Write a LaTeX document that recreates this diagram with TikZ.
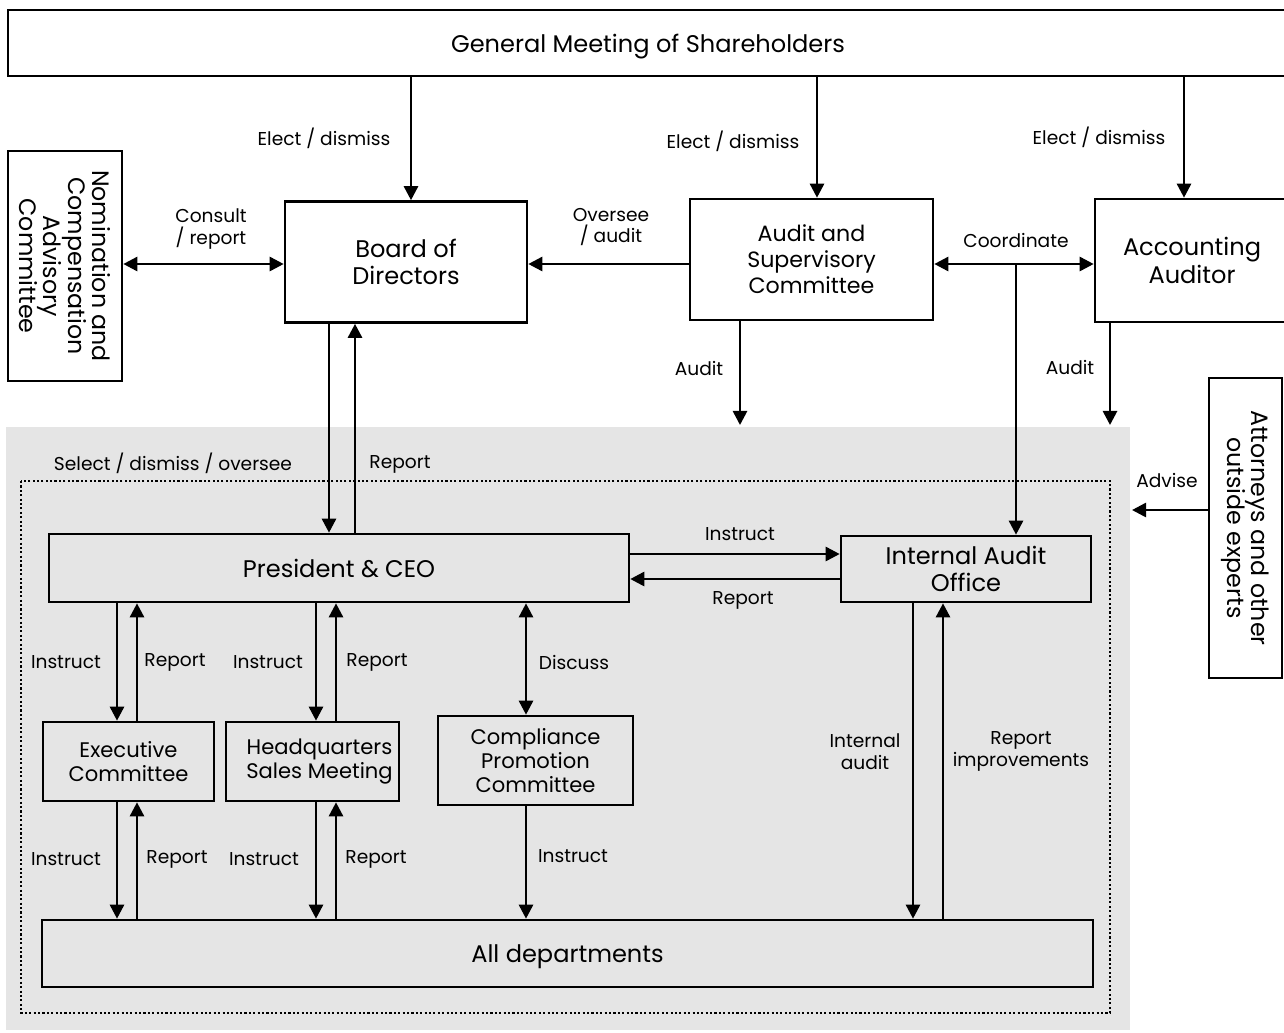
\documentclass[tikz,border=0pt]{standalone}
\usepackage{fontspec}
\setmainfont{Poppins}
\usetikzlibrary{arrows.meta}

\begin{document}
\begin{tikzpicture}[x=0.02cm,y=-0.02cm,
    box/.style={draw,line width=1.5pt,inner sep=0pt,align=center,font=\fontsize{13.7}{15.5}\selectfont},
    small/.style={font=\fontsize{12}{13.8}\selectfont},
    lbl/.style={inner sep=1pt,align=center,font=\fontsize{10.6}{12.5}\selectfont},
    arr/.style={line width=1.5pt,-{Triangle[length=8pt,width=8pt]}},
    dbl/.style={line width=1.5pt,{Triangle[length=8pt,width=8pt]}-{Triangle[length=8pt,width=8pt]}}]
    \useasboundingbox (0,0) rectangle (1284,1032);
    \fill[black!10] (6,427) rectangle (1130,1030);
    \draw[line width=1.2pt,dash pattern=on 1.2pt off 1.3pt] (21,481) rectangle (1110,1013);
    % top row
    \node[box,text depth=0pt,minimum width=25.6cm,minimum height=1.32cm] (gm) at (648,43) {General Meeting of Shareholders};
    \node[box,minimum width=2.28cm,minimum height=4.6cm] (nom) at (65,266) {};
    \node[rotate=-90,align=center,inner sep=0pt,font=\fontsize{13.5}{13.8}\selectfont] (nomtxt) at (nom) {Nomination and\\Compensation\\Advisory\\Committee};
    \node[box,minimum width=4.84cm,minimum height=2.42cm] (board) at (406,262) {Board of\\Directors};
    \node[box,font=\fontsize{12.6}{14.8}\selectfont,minimum width=4.86cm,minimum height=2.42cm] (asc) at (811.5,259.5) {Audit and\\Supervisory\\Committee};
    \node[box,minimum width=3.88cm,minimum height=2.46cm] (acc) at (1192,260.5) {Accounting\\Auditor};
    \node[box,minimum width=1.46cm,minimum height=6cm] (att) at (1245.5,528) {};
    \node[rotate=-90,align=center,inner sep=0pt,font=\fontsize{13.5}{13.8}\selectfont] (atttxt) at (att) {Attorneys and other\\outside experts};
    % inside the company
    \node[box,text depth=0pt,minimum width=11.6cm,minimum height=1.36cm] (pres) at (339,568) {President \& CEO};
    \node[box,minimum width=5cm,minimum height=1.32cm] (iao) at (966,569) {Internal Audit\\Office};
    \node[box,small,minimum width=3.42cm,minimum height=1.58cm] (exec) at (128.5,761.5) {Executive\\Committee};
    \node[box,small,minimum width=3.46cm,minimum height=1.58cm] (hq) at (312.5,761.5) {\hspace*{0.28cm}Headquarters\\\hspace*{0.28cm}Sales Meeting};
    \node[box,small,minimum width=3.9cm,minimum height=1.78cm] (cpc) at (535.5,760.5) {Compliance\\Promotion\\Committee};
    \node[box,text depth=0pt,minimum width=21.02cm,minimum height=1.34cm] (all) at (567.5,953.5) {All departments};
    \coordinate (cj) at (1016,264);
    \coordinate (ascend) at (740,425);
    \coordinate (accend) at (1110,425);
    \coordinate (advend) at (1132,510);
    % arrows
    \draw[arr] (411,0 |- gm.south) -- (411,0 |- board.north);
    \draw[arr] (817,0 |- gm.south) -- (817,0 |- asc.north);
    \draw[arr] (1184,0 |- gm.south) -- (1184,0 |- acc.north);
    \draw[dbl] (nom.east |- 0,264) -- (board.west |- 0,264);
    \draw[arr] (asc.west |- 0,264) -- (board.east |- 0,264);
    \draw[dbl] (asc.east |- 0,264) -- (acc.west |- 0,264);
    \draw[arr] (cj) -- (cj |- iao.north);
    \draw[arr] (ascend |- asc.south) -- (ascend);
    \draw[arr] (accend |- acc.south) -- (accend);
    \draw[arr] (att.west |- advend) -- (advend);
    \draw[arr] (329,0 |- board.south) -- (329,0 |- pres.north);
    \draw[arr] (355,0 |- pres.north) -- (355,0 |- board.south);
    \draw[arr] (pres.east |- 0,554) -- (iao.west |- 0,554);
    \draw[arr] (iao.west |- 0,579) -- (pres.east |- 0,579);
    \draw[arr] (117,0 |- pres.south) -- (117,0 |- exec.north);
    \draw[arr] (137,0 |- exec.north) -- (137,0 |- pres.south);
    \draw[arr] (316,0 |- pres.south) -- (316,0 |- hq.north);
    \draw[arr] (336,0 |- hq.north) -- (336,0 |- pres.south);
    \draw[dbl] (526,0 |- pres.south) -- (526,0 |- cpc.north);
    \draw[arr] (117,0 |- exec.south) -- (117,0 |- all.north);
    \draw[arr] (137,0 |- all.north) -- (137,0 |- exec.south);
    \draw[arr] (316,0 |- hq.south) -- (316,0 |- all.north);
    \draw[arr] (336,0 |- all.north) -- (336,0 |- hq.south);
    \draw[arr] (526,0 |- cpc.south) -- (526,0 |- all.north);
    \draw[arr] (913,0 |- iao.south) -- (913,0 |- all.north);
    \draw[arr] (943,0 |- all.north) -- (943,0 |- iao.south);
    % labels
    \node[lbl] (l1) at (324,138) {Elect / dismiss};
    \node[lbl] (l2) at (733,141) {Elect / dismiss};
    \node[lbl] (l3) at (1099,137) {Elect / dismiss};
    \node[lbl] (l4) at (211,229) {Consult\\/ report};
    \node[lbl] (l5) at (611,227) {Oversee\\/ audit};
    \node[lbl] (l6) at (1016,240) {Coordinate};
    \node[lbl] (l7) at (699,368) {Audit};
    \node[lbl] (l8) at (1070,367) {Audit};
    \node[lbl] (l9) at (1167,480) {Advise};
    \node[lbl] (l10) at (173,463) {Select / dismiss / oversee};
    \node[lbl] (l11) at (400,464) {Report};
    \node[lbl] (l12) at (740,534) {Instruct};
    \node[lbl] (l13) at (743,600) {Report};
    \node[lbl] (l14) at (66,662) {Instruct};
    \node[lbl] (l15) at (175,662) {Report};
    \node[lbl] (l16) at (268,662) {Instruct};
    \node[lbl] (l17) at (377,662) {Report};
    \node[lbl] (l18) at (574,662) {Discuss};
    \node[lbl] (l19) at (66,859) {Instruct};
    \node[lbl] (l20) at (177,859) {Report};
    \node[lbl] (l21) at (264,859) {Instruct};
    \node[lbl] (l22) at (376,859) {Report};
    \node[lbl] (l23) at (573,856) {Instruct};
    \node[lbl] (l24) at (865,752) {Internal\\audit};
    \node[lbl] (l25) at (1021,751) {Report\\improvements};
\end{tikzpicture}
\end{document}
